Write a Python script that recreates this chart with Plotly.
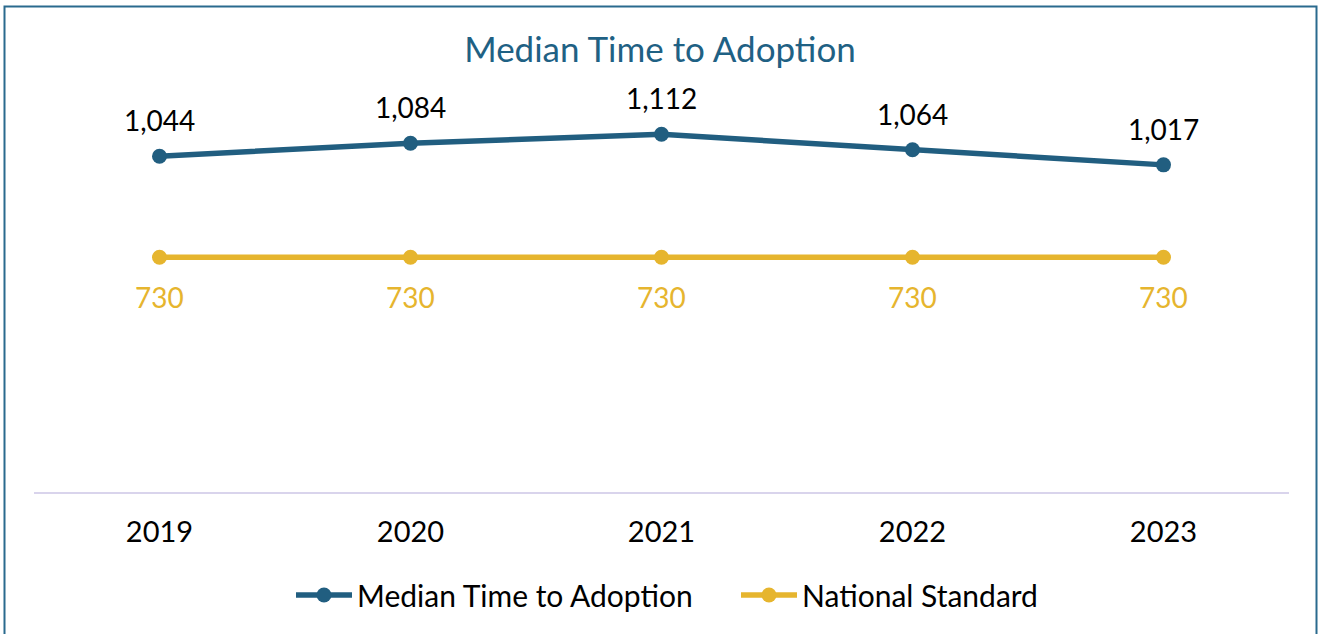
import plotly.graph_objects as go

years = [2019, 2020, 2021, 2022, 2023]
year_labels = ["2019", "2020", "2021", "2022", "2023"]
median_days = [1044, 1084, 1112, 1064, 1017]
national_standard = [730, 730, 730, 730, 730]

BLUE = "#215E80"
GOLD = "#E6B52E"
FONT = "Lato"

W, H = 1320, 634
ml, mr, mt, mb = 34, 31, 106, 142
pw, ph = W - ml - mr, H - mt - mb

def px_x(p):
    return (p - ml) / pw

def px_y(p):
    return (H - mb - p) / ph

fig = go.Figure()
fig.add_trace(go.Scatter(
    x=years, y=median_days, name="Median Time to Adoption",
    mode="lines+markers", line=dict(color=BLUE, width=5.5),
    marker=dict(size=15, color=BLUE),
))
fig.add_trace(go.Scatter(
    x=years, y=national_standard, name="National Standard",
    mode="lines+markers", line=dict(color=GOLD, width=5.5),
    marker=dict(size=15, color=GOLD),
))

annotations = []
for x, v in zip(years, median_days):
    annotations.append(dict(x=x, y=v, xref="x", yref="y", text=f"{v:,}", showarrow=False,
                            yshift=36, font=dict(family=FONT, size=28, color="#000000")))
for x, v in zip(years, national_standard):
    annotations.append(dict(x=x, y=v, xref="x", yref="y", text=f"{v:,}", showarrow=False,
                            yshift=-40, font=dict(family=FONT, size=28, color=GOLD)))

fig.update_layout(
    width=W, height=H,
    margin=dict(l=ml, r=mr, t=mt, b=mb, autoexpand=False),
    paper_bgcolor="white", plot_bgcolor="white",
    font=dict(family=FONT, color="#000000"),
    title=dict(text="Median Time to Adoption", x=0.5, xref="container",
               y=1 - 50 / H, yref="container", yanchor="middle", xanchor="center",
               font=dict(family=FONT, size=35, color="#1F6184")),
    xaxis=dict(type="linear", range=[years[0] - 0.5, years[-1] + 0.5],
               tickmode="array", tickvals=years, ticktext=year_labels,
               showgrid=False, showline=True, linecolor="#D9D4EC", linewidth=2,
               tickfont=dict(family=FONT, size=29, color="#000000"),
               ticks="outside", ticklen=13, tickcolor="rgba(0,0,0,0)", zeroline=False,
               automargin=False),
    yaxis=dict(range=[0, 1200], visible=False, showgrid=False, zeroline=False,
               automargin=False),
    showlegend=True,
    legend=dict(orientation="h", x=px_x(291), xanchor="left", y=px_y(595), yanchor="middle",
                font=dict(family=FONT, size=30, color="#000000"), itemwidth=56,
                entrywidth=374, traceorder="normal"),
    annotations=annotations,
    shapes=[dict(type="rect", xref="paper", yref="paper",
                 x0=px_x(4.5), x1=px_x(1316.5), y0=px_y(645), y1=px_y(6.5),
                 line=dict(color="#2A6A8E", width=2), fillcolor="rgba(0,0,0,0)")],
)

fig.write_html("out.html", config={"displayModeBar": False},
               post_script="document.body.style.margin='0';")
